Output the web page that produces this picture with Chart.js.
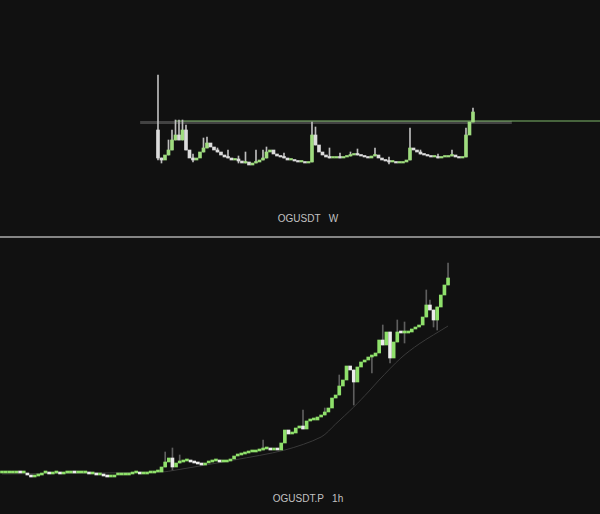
<!DOCTYPE html>
<html>
<head>
<meta charset="utf-8">
<script src="https://cdn.jsdelivr.net/npm/chart.js@4.4.1/dist/chart.umd.min.js"></script>
<style>
    html, body { margin: 0; padding: 0; background: #111111; }
    #wrap { position: relative; width: 600px; height: 514px; overflow: hidden; background: #111111; }
    canvas { position: absolute; left: 0; }
    #topChart { top: 60px; }
    #bottomChart { top: 240px; }
    .label {
        position: absolute; left: 8px; width: 600px; text-align: center;
        font-family: "Liberation Sans", Arial, sans-serif; font-size: 10px;
        line-height: 13px; color: #c2c2c2; white-space: pre;
    }
    .sep { position: absolute; left: 0; top: 236px; width: 600px; height: 2px; background: #858585; }
</style>
</head>
<body>
<div id="wrap">
    <canvas id="topChart" width="600" height="120"></canvas>
    <div class="label" style="top:212px">OGUSDT   W</div>
    <div class="sep"></div>
    <canvas id="bottomChart" width="600" height="250"></canvas>
    <div class="label" style="top:492px">OGUSDT.P   1h</div>
</div>
<script>
// OGUSDT weekly closes (USDT)
const topFirstOpen = 12.5;
const topClose = [5.5, 5, 6.25, 7.5, 10, 11.25, 10, 12.5, 7.5, 5.5,
    5, 5.5, 7, 8, 9.25, 8.25, 7.5, 7, 6.25, 5.75,
    5.5, 5, 5.25, 4.75, 4.25, 4.5, 3.75, 4.25, 4.5, 5,
    5.5, 7, 7.5, 6.5, 6, 5.75, 5.5, 5, 5, 4.75,
    4.5, 4.5, 4.25, 4.5, 11.25, 8.75, 7, 6.25, 5.75, 5.5,
    5.5, 5.75, 5.5, 5.75, 6, 6.25, 6.5, 6.25, 6, 5.75,
    5.5, 6, 6.25, 5.5, 5, 4.75, 4.5, 4.5, 4.25, 4.25,
    4.5, 5, 8, 7.5, 7, 6.5, 6.25, 6, 5.75, 5.75,
    5.5, 5.75, 5.75, 6, 6.25, 5.75, 5.5, 5.75, 11.25, 14.5, 17];
// weeks with visible wicks (null = body edge)
const topWickIdx  = [0, 1, 3, 4, 5, 6, 7, 8, 10, 13, 14, 17, 20, 23, 25, 28, 30, 31, 36, 44, 45, 49, 52, 55, 57, 62, 66, 72, 75, 80, 84, 88, 90];
const topWickHigh = [26.25, null, 10, 12.5, 15, 15, 15, 13.75, 6.5, 10.5, 10.75, 8, 7.5, 6, 7, 7.5, 7.5, 8.25, 6.75, 14.5, 13.25, 8, 6.75, 7, 7.75, 8, 5.75, 13, 7.5, 6.5, 7.5, 13, 18];
const topWickLow  = [5, 4.25, null, null, null, null, null, null, 4.5, null, null, null, null, 4.25, null, null, null, null, null, null, null, null, null, null, null, null, 4, null, null, null, null, null, null];
const topLevel = 14.75;

// OGUSDT.P hourly closes (USDT)
const botFirstOpen = 5.52;
const botClose = [5.52, 5.52, 5.52, 5.52, 5.58, 5.52, 5.52, 5.40, 5.28, 5.34,
    5.40, 5.52, 5.52, 5.46, 5.52, 5.52, 5.46, 5.52, 5.52, 5.58,
    5.52, 5.52, 5.52, 5.52, 5.46, 5.46, 5.40, 5.40, 5.34, 5.28,
    5.28, 5.40, 5.40, 5.40, 5.40, 5.46, 5.52, 5.52, 5.46, 5.46,
    5.52, 5.52, 5.58, 5.58, 5.88, 6.18, 6.42, 5.88, 6.12, 6.18,
    6.24, 6.24, 6.18, 6.12, 6.06, 6.00, 6.12, 6.18, 6.24, 6.24,
    6.18, 6.18, 6.24, 6.36, 6.54, 6.60, 6.66, 6.72, 6.78, 6.78,
    6.84, 6.90, 6.96, 6.96, 6.90, 6.96, 6.90, 7.32, 8.10, 7.86,
    7.92, 8.22, 8.34, 8.16, 8.64, 8.70, 8.70, 8.88, 9.00, 9.18,
    9.42, 10.02, 10.20, 10.74, 11.10, 11.94, 11.70, 10.98, 11.88, 12.18,
    12.30, 12.48, 12.54, 12.72, 13.50, 13.20, 13.98, 12.42, 13.38, 13.98,
    13.92, 13.92, 13.98, 14.16, 14.28, 14.40, 14.88, 15.60, 15.30, 14.70,
    15.48, 16.20, 16.80, 17.22];
const botWickIdx  = [45, 47, 49, 72, 83, 89, 93, 97, 102, 105, 107, 109, 111, 117, 118, 119, 120, 123];
const botWickHigh = [6.78, 7.02, 6.60, 7.50, 9.30, 9.42, 11.40, null, null, 14.40, null, 14.70, 14.58, 16.50, 15.90, null, null, 18.12];
const botWickLow  = [null, 5.70, null, null, null, null, null, 9.60, 11.52, null, 12.12, null, 13.32, null, null, 14.28, 14.10, null];
// moving average (hour index, value)
const maIdx = [0, 44, 48, 64, 78, 88, 92, 97, 101, 104, 110, 115, 123];
const maVal = [5.46, 5.58, 5.70, 6.30, 6.90, 7.68, 8.46, 9.48, 10.38, 11.10, 12.42, 13.26, 14.34];

function buildBodies(closes, firstOpen) {
    return closes.map(function(c, i) {
        const o = i === 0 ? firstOpen : closes[i - 1];
        return { x: i, y: [o, c] };
    });
}

function buildWicks(bodies, idx, highs, lows) {
    return idx.map(function(i, k) {
        const b = bodies[i].y;
        const lo = lows[k] !== null ? lows[k] : Math.min(b[0], b[1]);
        const hi = highs[k] !== null ? highs[k] : Math.max(b[0], b[1]);
        return { x: i, y: [lo, hi] };
    });
}

function candleColor(up, down) {
    return function(ctx) {
        const r = ctx.raw;
        if (!r) return up;
        return r.y[1] >= r.y[0] ? up : down;
    };
}

const hidden = { display: false, grid: { display: false } };

function baseOptions(xMin, xMax, yMin, yMax) {
    return {
        responsive: false,
        animation: false,
        devicePixelRatio: 1,
        layout: { padding: 0 },
        plugins: { legend: { display: false }, tooltip: { enabled: false } },
        scales: {
            x: { ...hidden, type: 'linear', min: xMin, max: xMax, offset: false },
            y: { ...hidden, min: yMin, max: yMax }
        }
    };
}

// top chart: weekly
const topBodies = buildBodies(topClose, topFirstOpen);
const topWicks = buildWicks(topBodies, topWickIdx, topWickHigh, topWickLow);

new Chart(document.getElementById('topChart'), {
    type: 'bar',
    data: {
        datasets: [
            {
                type: 'line', order: 4,
                data: [{ x: -5.1, y: topLevel - 0.4 }, { x: 101.1, y: topLevel - 0.4 }],
                borderColor: 'rgba(140,140,140,0.4)', borderWidth: 3, pointRadius: 0
            },
            {
                type: 'line', order: 3,
                data: [{ x: 4.9, y: topLevel }, { x: 127, y: topLevel }],
                borderColor: '#7fb86a', borderWidth: 1, pointRadius: 0
            },
            {
                order: 2, grouped: false, data: topWicks,
                backgroundColor: '#bdbdbd', barThickness: 1
            },
            {
                order: 1, grouped: false, data: topBodies,
                backgroundColor: candleColor('#9fdc7f', '#dcdcdc'),
                barThickness: 3, minBarLength: 1.5
            }
        ]
    },
    options: baseOptions(-45.14, 126.29, 0, 30)
});

// bottom chart: hourly
const botBodies = buildBodies(botClose, botFirstOpen);
const botWicks = buildWicks(botBodies, botWickIdx, botWickHigh, botWickLow);

new Chart(document.getElementById('bottomChart'), {
    type: 'bar',
    data: {
        datasets: [
            {
                type: 'line', order: 4,
                data: maIdx.map(function(x, k) { return { x: x, y: maVal[k] }; }),
                borderColor: '#3a3a3a', borderWidth: 1, pointRadius: 0, tension: 0.3
            },
            {
                order: 2, grouped: false, data: botWicks,
                backgroundColor: '#5e5e5e', barThickness: 1
            },
            {
                order: 1, grouped: false, data: botBodies,
                backgroundColor: candleColor('#8fe06b', '#ececec'),
                barThickness: 3, minBarLength: 2
            }
        ]
    },
    options: baseOptions(-0.55, 164.9, 4.5, 19.5)
});
</script>
</body>
</html>
